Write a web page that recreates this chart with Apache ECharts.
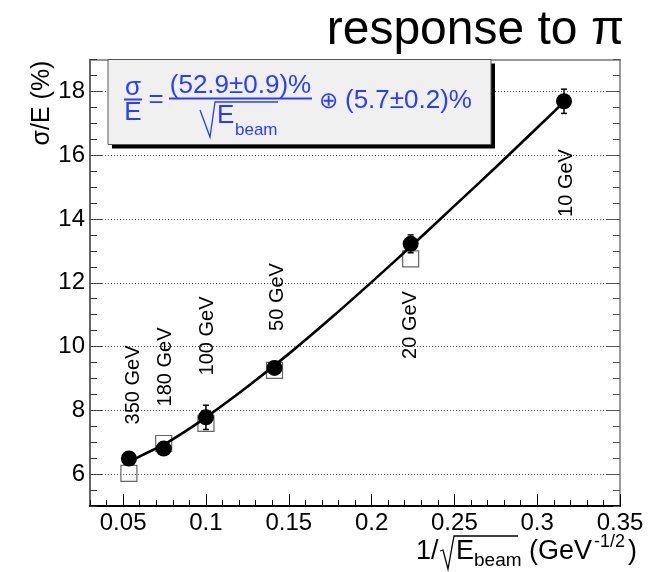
<!DOCTYPE html>
<html><head><meta charset="utf-8">
<script src="https://cdn.jsdelivr.net/npm/echarts@6/dist/echarts.min.js"></script>
<style>html,body{margin:0;padding:0;background:#fff}#c{width:659px;height:572px}</style>
</head><body><div id="c"></div>
<script>
// ---- data ----
const energies   = ['350 GeV','180 GeV','100 GeV','50 GeV','20 GeV','10 GeV'];
const xInvSqrtE  = [0.0535, 0.0745, 0.1, 0.1414, 0.2236, 0.3162];
const sigmaE     = [6.49, 6.80, 7.78, 9.33, 13.22, 17.69];
const sigmaErr   = [0.15, 0.2, 0.38, 0.2, 0.28, 0.38];
const squareX    = [0.0535, 0.0745, 0.1, 0.1414, 0.2236];
const squareY    = [6.02, 6.96, 7.59, 9.25, 12.75];
const fitX       = [0.0535, 0.0625, 0.075, 0.0875, 0.1, 0.125, 0.15, 0.175, 0.2, 0.225, 0.25, 0.275, 0.3, 0.3162];
const fitY       = [6.38, 6.62, 6.94, 7.34, 7.78, 8.74, 9.77, 10.87, 12.02, 13.2, 14.41, 15.62, 16.86, 17.67];
const xTickLabels = [0.05, 0.1, 0.15, 0.2, 0.25, 0.3, 0.35];
const yTickLabels = [6, 8, 10, 12, 14, 16, 18];
const xMinorTicks = [0.03,0.04,0.05,0.06,0.07,0.08,0.09,0.1,0.11,0.12,0.13,0.14,0.15,0.16,0.17,0.18,0.19,0.2,0.21,0.22,0.23,0.24,0.25,0.26,0.27,0.28,0.29,0.3,0.31,0.32,0.33,0.34,0.35];
const yMinorTicks = [5,5.5,6,6.5,7,7.5,8,8.5,9,9.5,10,10.5,11,11.5,12,12.5,13,13.5,14,14.5,15,15.5,16,16.5,17,17.5,18,18.5,19];

const FONT = '"Liberation Sans", Arial, Helvetica, sans-serif';
const BLUE = '#2a3cff';
const chart = echarts.init(document.getElementById('c'), null, {renderer:'canvas'});

function T(x, y, text, size, o) {
  o = o || {};
  return Object.assign({
    type:'text', x:x, y:y, z:100,
    style: Object.assign({text:text, fontSize:size, fontFamily:FONT, fill:o.fill||'#000',
      align:o.align||'center', verticalAlign:o.va||'middle'}, o.style||{})
  }, o.el||{});
}
function L(x1,y1,x2,y2,color,w){
  return {type:'line', z:100, shape:{x1:x1,y1:y1,x2:x2,y2:y2}, style:{stroke:color, lineWidth:w}};
}

const xMin = 0.03, xMax = 0.35, yMin = 5, yMax = 19;
function xAx(pos, opt){ return Object.assign({type:'value', min:xMin, max:xMax, position:pos, gridIndex:0,
  splitLine:{show:false}, axisLabel:{show:false}, axisTick:{show:false}, axisLine:{show:false, onZero:false}}, opt); }
function yAx(pos, opt){ return Object.assign({type:'value', min:yMin, max:yMax, position:pos, gridIndex:0,
  splitLine:{show:false}, axisLabel:{show:false}, axisTick:{show:false}, axisLine:{show:false, onZero:false}}, opt); }

const labelPos = [[133.5,385],[165,367],[207.5,336],[277.5,297],[410.5,325],[566.5,183]];

const graphics = [
  // title
  T(624, 31, 'response to π', 48, {align:'right'}),
  // y axis name
  T(42, 103, 'σ/E (%)', 25, {el:{rotation:Math.PI/2}}),
  // x axis name
  T(416, 552, '1/', 27, {align:'left'}),
  {type:'polyline', z:100, shape:{points:[[440,551],[443,550],[448,569],[454,536],[518,536]]}, style:{stroke:'#000', lineWidth:1.3, fill:null}},
  T(456, 552, 'E', 27, {align:'left'}),
  T(474, 561, 'beam', 19, {align:'left'}),
  T(529, 552, '(GeV', 27, {align:'left'}),
  T(594, 542, '-1/2', 18, {align:'left'}),
  T(628, 552, ')', 27, {align:'left'}),
  // legend box
  {type:'rect', z:90, shape:{x:112, y:63.5, width:383, height:85}, style:{fill:'#000'}},
  {type:'rect', z:91, shape:{x:108, y:59.5, width:383, height:85}, style:{fill:'#f0f0f0', stroke:'#555', lineWidth:1}},
  T(133, 88, 'σ', 26, {fill:BLUE}),
  L(124, 99.5, 142, 99.5, BLUE, 2),
  T(133, 113, 'E', 26, {fill:BLUE}),
  T(156, 100, '=', 26, {fill:BLUE}),
  T(240.5, 86, '(52.9±0.9)%', 26, {fill:BLUE}),
  L(169, 98.5, 312, 98.5, BLUE, 2),
  {type:'polyline', z:100, shape:{points:[[200,110],[210,137],[215,102],[278,102]]}, style:{stroke:BLUE, lineWidth:1.3, fill:null}},
  T(217, 116, 'E', 26, {fill:BLUE, align:'left'}),
  T(235, 130, 'beam', 17, {fill:BLUE, align:'left'}),
  T(328, 102, '⊕', 23, {fill:BLUE}),
  T(345, 101, '(5.7±0.2)%', 26, {fill:BLUE, align:'left'})
];
energies.forEach(function(e, i){
  graphics.push(T(labelPos[i][0], labelPos[i][1], e, 20, {el:{rotation:Math.PI/2}}));
});

const option = {
  animation:false,
  backgroundColor:'#fff',
  textStyle:{fontFamily:FONT},
  grid:{left:90, right:39, top:59.5, bottom:66, containLabel:false},
  xAxis:[
    xAx('bottom', {axisLine:{show:true, onZero:false, lineStyle:{color:'#000', width:2}},
      axisTick:{show:true, inside:true, length:12, customValues:xTickLabels, lineStyle:{color:'#000', width:1}},
      axisLabel:{show:true, customValues:xTickLabels, fontSize:24, color:'#000', margin:5, fontFamily:FONT,
        formatter:function(v){ return String(+(+v).toFixed(2)); }}}),
    xAx('bottom', {axisTick:{show:true, inside:true, length:6, customValues:xMinorTicks, lineStyle:{color:'#000', width:1}}}),
    xAx('top', {axisLine:{show:true, onZero:false, lineStyle:{color:'#777', width:1.5}}})
  ],
  yAxis:[
    yAx('left', {axisLine:{show:true, onZero:false, lineStyle:{color:'#333', width:1.5}},
      axisTick:{show:true, inside:true, length:13, customValues:yTickLabels, lineStyle:{color:'#333', width:1}},
      axisLabel:{show:true, customValues:yTickLabels, fontSize:24, color:'#000', margin:5, fontFamily:FONT}}),
    yAx('left', {axisTick:{show:true, inside:true, length:7, customValues:yMinorTicks, lineStyle:{color:'#333', width:1}}}),
    yAx('right', {axisLine:{show:true, onZero:false, lineStyle:{color:'#777', width:1.5}},
      axisTick:{show:true, inside:true, length:13, customValues:yTickLabels, lineStyle:{color:'#555', width:1}}}),
    yAx('right', {axisTick:{show:true, inside:true, length:7, customValues:yMinorTicks, lineStyle:{color:'#555', width:1}}})
  ],
  series:[
    { type:'line', xAxisIndex:0, yAxisIndex:0, data:[], silent:true, z:1,
      markLine:{silent:true, symbol:['none','none'], label:{show:false},
        lineStyle:{color:'#555', type:[1,2], width:1},
        data: yTickLabels.map(function(v){ return {yAxis:v}; })} },
    { type:'scatter', xAxisIndex:0, yAxisIndex:0, z:3, symbol:'rect', symbolSize:16,
      itemStyle:{color:'#fff', borderColor:'#666', borderWidth:1.2, opacity:1},
      data: squareX.map(function(x,i){ return [x, squareY[i]]; }) },
    { type:'custom', xAxisIndex:0, yAxisIndex:0, z:4,
      data: xInvSqrtE.map(function(x,i){ return [x, sigmaE[i]-sigmaErr[i], sigmaE[i]+sigmaErr[i]]; }),
      renderItem:function(params, api){
        const x = api.value(0);
        const p1 = api.coord([x, api.value(1)]), p2 = api.coord([x, api.value(2)]);
        const st = {stroke:'#000', lineWidth:1.5};
        return {type:'group', children:[
          {type:'line', shape:{x1:p1[0],y1:p1[1],x2:p2[0],y2:p2[1]}, style:st},
          {type:'line', shape:{x1:p1[0]-3,y1:p1[1],x2:p1[0]+3,y2:p1[1]}, style:st},
          {type:'line', shape:{x1:p2[0]-3,y1:p2[1],x2:p2[0]+3,y2:p2[1]}, style:st}
        ]};
      } },
    { type:'scatter', xAxisIndex:0, yAxisIndex:0, z:5, symbol:'circle', symbolSize:16,
      itemStyle:{color:'#000', opacity:1},
      data: xInvSqrtE.map(function(x,i){ return [x, sigmaE[i]]; }) },
    { type:'line', xAxisIndex:0, yAxisIndex:0, z:6, smooth:0.3, showSymbol:false, symbol:'none',
      lineStyle:{color:'#000', width:2.6},
      data: fitX.map(function(x,i){ return [x, fitY[i]]; }) }
  ],
  graphic: graphics
};
chart.setOption(option);
</script>
</body></html>
